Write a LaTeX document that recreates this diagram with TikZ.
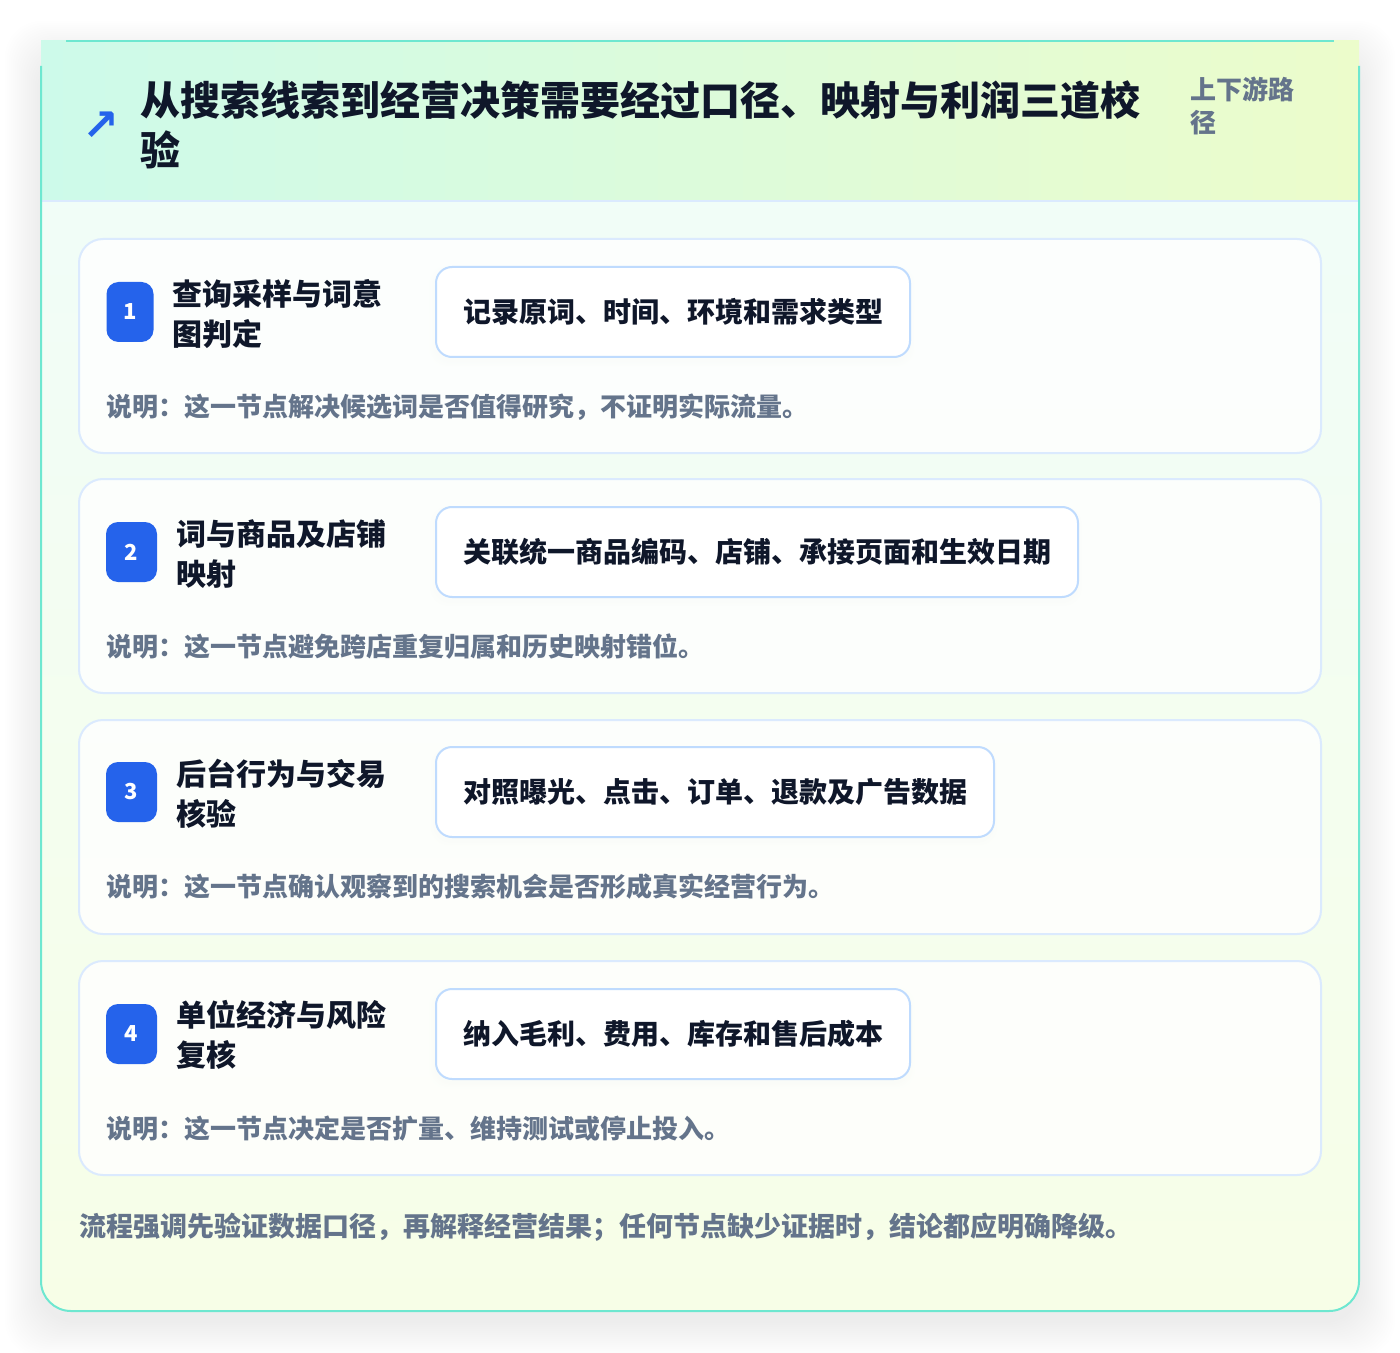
\documentclass[tikz,border=0pt]{standalone}
\usepackage{fontspec}
\setmainfont{Noto Sans CJK SC}
\newfontfamily\dejavu{DejaVu Sans}
\definecolor{cardline}{HTML}{6EE7D0}
\definecolor{headL}{HTML}{CDFAEA}
\definecolor{headR}{HTML}{ECFCCB}
\definecolor{bodyTop}{HTML}{F0FDFA}
\definecolor{bodyBot}{HTML}{F7FEE7}
\definecolor{stepborder}{HTML}{DBEAFE}
\definecolor{pillborder}{HTML}{BFDBFE}
\definecolor{badgeblue}{HTML}{2563EB}
\definecolor{ink}{HTML}{0F172A}
\definecolor{muted}{HTML}{64748B}
\newcommand\fs[2]{\fontsize{#1}{#2}\selectfont\bfseries}
\begin{document}
\begin{tikzpicture}[x=0.5pt,y=-0.5pt,
  stepcard/.style={draw=stepborder, line width=1pt, fill=white, fill opacity=0.8, rounded corners=12pt, minimum width=621pt, minimum height=107pt, inner sep=0pt},
  pill/.style={draw=pillborder, line width=1pt, fill=white, rounded corners=8pt, minimum height=45pt, inner xsep=13.5pt, inner ysep=0pt, anchor=west, font=\fs{14pt}{17pt}, text=ink},
  badge/.style={fill=badgeblue, rounded corners=6pt, minimum height=30pt, text=white, font=\fs{11pt}{13pt}, inner sep=0pt},
  steptitle/.style={anchor=west, align=left, font=\fs{15pt}{20pt}, text=ink, inner sep=0pt},
  desc/.style={anchor=west, font=\fs{13pt}{16pt}, text=muted, inner sep=0pt}
]
\useasboundingbox (0,0) rectangle (1400,1352);
\fill[white] (0,0) rectangle (1400,1352);
% soft shadow of the card
\foreach \i in {2,4,...,36} {
  \fill[black, opacity=0.0045, rounded corners=18pt] (41-\i,41-\i+16) rectangle (1359+\i,1311+\i+10);
}
% card body
\path[rounded corners=15pt, top color=bodyTop, bottom color=bodyBot] (41,41) rectangle (1359,1311);
% header
\shade[left color=headL, right color=headR] (41,41) rectangle (1359,201);
\draw[stepborder, line width=1pt] (41,201) -- (1359,201);
% border
\draw[cardline, line width=1pt, rounded corners=15pt] (41,66) -- (41,1311) -- (1359,1311) -- (1359,66);
\draw[cardline, line width=1pt] (66,41) -- (1334,41);
% pill shadows
\foreach \ya/\xb in {267/909, 507/1077, 747/993, 989/909} {
  \foreach \i in {1,2,...,6} {
    \fill[black, opacity=0.006, rounded corners=9pt] (435-\i,\ya-\i+4) rectangle (\xb+\i,\ya+90+\i+4);
  }
}
% header texts
\node[text=badgeblue, font=\dejavu\bfseries\fontsize{22pt}{24pt}\selectfont, inner sep=0pt] (icon) at (101,126) {↗};
\node[anchor=west, align=left, font=\fs{20pt}{25pt}, text=ink, inner sep=0pt] (title) at (140,125) {从搜索线索到经营决策需要经过口径、映射与利润三道校\\验};
\node[anchor=west, align=left, font=\fs{13pt}{16.5pt}, text=muted, inner sep=0pt] (sub) at (1190,106) {上下游路\\径};
% step 1
\node[stepcard] (c1) at (700,346) {};
\node[badge, minimum width=23.5pt] (b1) at (130,312) {1};
\node[steptitle] (t1) at (172,314) {查询采样与词意\\图判定};
\node[pill] (p1) at (435,312) {记录原词、时间、环境和需求类型};
\node[desc] (d1) at (106,407) {说明：这一节点解决候选词是否值得研究，不证明实际流量。};
% step 2
\node[stepcard] (c2) at (700,586) {};
\node[badge, minimum width=25.5pt] (b2) at (131.5,552) {2};
\node[steptitle] (t2) at (176,554) {词与商品及店铺\\映射};
\node[pill] (p2) at (435,552) {关联统一商品编码、店铺、承接页面和生效日期};
\node[desc] (d2) at (106,647) {说明：这一节点避免跨店重复归属和历史映射错位。};
% step 3
\node[stepcard] (c3) at (700,827) {};
\node[badge, minimum width=25.5pt] (b3) at (131.5,792) {3};
\node[steptitle] (t3) at (176,794) {后台行为与交易\\核验};
\node[pill] (p3) at (435,792) {对照曝光、点击、订单、退款及广告数据};
\node[desc] (d3) at (106,887) {说明：这一节点确认观察到的搜索机会是否形成真实经营行为。};
% step 4
\node[stepcard] (c4) at (700,1068) {};
\node[badge, minimum width=25.5pt] (b4) at (131.5,1034) {4};
\node[steptitle] (t4) at (176,1035) {单位经济与风险\\复核};
\node[pill] (p4) at (435,1034) {纳入毛利、费用、库存和售后成本};
\node[desc] (d4) at (106,1129) {说明：这一节点决定是否扩量、维持测试或停止投入。};
% footer
\node[anchor=west, font=\fs{13.5pt}{16pt}, text=muted, inner sep=0pt] (foot) at (79,1227) {流程强调先验证数据口径，再解释经营结果；任何节点缺少证据时，结论都应明确降级。};
\end{tikzpicture}
\end{document}
